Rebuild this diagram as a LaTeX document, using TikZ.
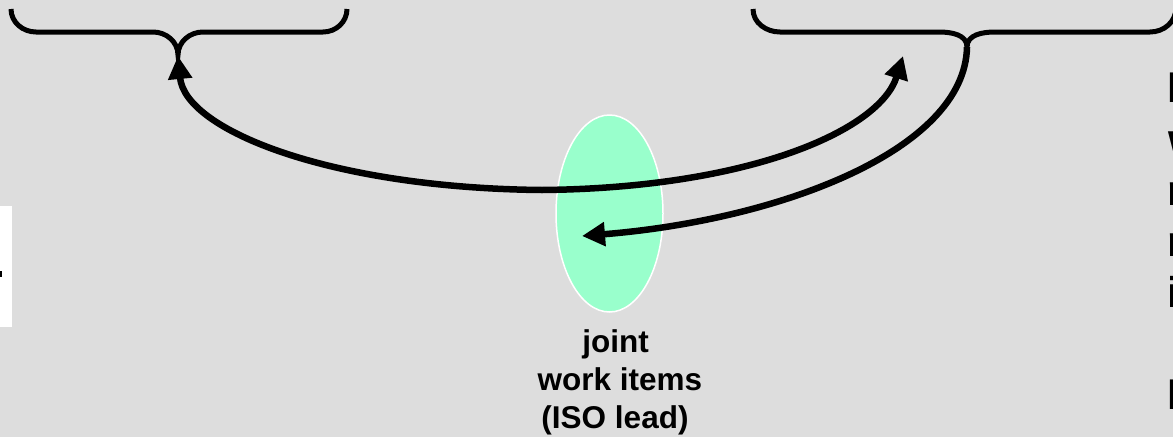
\documentclass[tikz,border=0pt]{standalone}
\usepackage{fontspec}
\setmainfont{Liberation Sans}
\usetikzlibrary{arrows.meta,shapes.geometric}
\definecolor{bg}{HTML}{DDDDDD}
\definecolor{mint}{HTML}{99FFCC}
\begin{document}
\begin{tikzpicture}[x=1pt,y=-1pt,
  brace/.style={line width=5pt},
  conn/.style={line width=6.5pt, -{Triangle[length=23pt,width=23pt]}},
  lbl/.style={font=\bfseries\fontsize{31.5}{38}\selectfont, inner sep=0pt, anchor=base},
  edgetxt/.style={font=\bfseries\fontsize{43}{51}\selectfont, inner sep=0pt, anchor=base west}]
\useasboundingbox (0,0) rectangle (1173,437);
\clip (0,0) rectangle (1173,437);
\fill[bg] (0,0) rectangle (1173,437);
% left white box fragment
\fill[white] (0,206) rectangle (12,327);
\fill[black] (0,271) rectangle (2,277);
% ellipse
\node[draw=white, line width=1.5pt, fill=mint, ellipse, minimum width=107pt, minimum height=197pt, inner sep=0pt] (jwi) at (609.5,213.5) {};
% label
\node[lbl] (lab1) at (615.5,352) {joint};
\node[lbl] (lab2) at (620,390) {work items};
\node[lbl] (lab3) at (615,428) {(ISO lead)};
% braces
\coordinate (lbtip) at (178,55);
\coordinate (rbtip) at (967,47);
\draw[brace] (11,9) to[out=-90,in=180] (36,32) -- (153,32) to[out=0,in=90] (lbtip)
  to[out=90,in=180] (203,32) -- (323,32) to[out=0,in=-90] (347,9);
\draw[brace] (753,9) to[out=-90,in=180] (780,32) -- (939,32) to[out=0,in=90] (rbtip)
  to[out=90,in=180] (995,32) -- (1150,32) to[out=0,in=-90] (1176,8);
% connectors
\coordinate (mid) at (542,190);
\coordinate (lbarrow) at (178,56);
\coordinate (rbarrow) at (903,56);
\coordinate (jwin) at (582,236);
\draw[conn] (mid) .. controls (330,188) and (185,130) .. (lbarrow);
\draw[conn] (mid) .. controls (750,188) and (880,130) .. (rbarrow);
\draw[conn] (rbtip) .. controls (965,150) and (780,220) .. (jwin);
% clipped text at right edge
\node[edgetxt] (r1) at (1167.2,102) {I};
\node[edgetxt] (r2) at (1168,154) {w};
\node[edgetxt] (r3) at (1167.2,205) {n};
\node[edgetxt] (r4) at (1167.2,256) {r};
\node[edgetxt] (r5) at (1167.2,307) {i};
\node[edgetxt] (r6) at (1167.2,409) {I};
\end{tikzpicture}
\end{document}
